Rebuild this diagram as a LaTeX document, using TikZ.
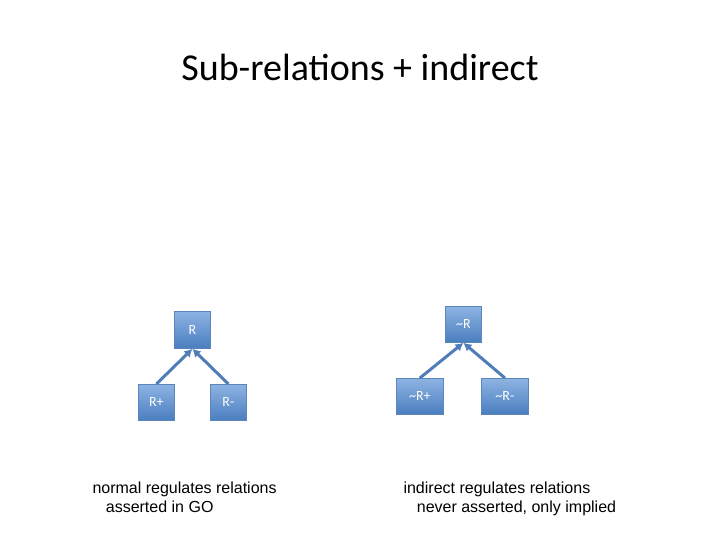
\documentclass[tikz,border=0pt]{standalone}
\usepackage{fontspec}
\usetikzlibrary{arrows.meta}
\setmainfont{Carlito}
\newfontfamily\arialf{Liberation Sans}
\definecolor{btop}{HTML}{8DB3E2}
\definecolor{bbot}{HTML}{4A7EC0}
\definecolor{bline}{HTML}{5A86BC}
\definecolor{arr}{HTML}{4F7DB8}
\begin{document}
\begin{tikzpicture}[x=1pt,y=-1pt,
  box/.style={draw=bline,line width=0.8pt,top color=btop,bottom color=bbot,text=white,font=\fontsize{14}{16}\selectfont,inner sep=0pt,anchor=north west},
  conn/.style={draw=arr,line width=3pt,-{Latex[length=8pt,width=9pt]}},
  lbl/.style={font=\arialf\fontsize{16}{19}\selectfont,align=left,anchor=north west}]
\useasboundingbox (0,0) rectangle (720,540);
\node (title) at (360,67) {\fontsize{38}{44}\selectfont Sub-relations + indirect};
\node[box,minimum width=36pt,minimum height=37pt] (R) at (174,311) {R};
\node[box,minimum width=36pt,minimum height=36pt] (Rp) at (138,384) {R+};
\node[box,minimum width=36pt,minimum height=36pt] (Rm) at (210,384) {R-};
\node[box,minimum width=36pt,minimum height=36pt] (nR) at (445,306) {\textasciitilde R};
\node[box,minimum width=47pt,minimum height=36pt] (nRp) at (396,378) {\textasciitilde R+};
\node[box,minimum width=47pt,minimum height=36pt] (nRm) at (481,378) {\textasciitilde R-};
\draw[conn] (Rp.north) -- (R.south);
\draw[conn] (Rm.north) -- (R.south);
\draw[conn] (nRp.north) -- (nR.south);
\draw[conn] (nRm.north) -- (nR.south);
\node[lbl] (l1) at (89,478) {normal regulates relations\\\ \ \ asserted in GO};
\node[lbl] (l2) at (400,478) {indirect regulates relations\\\ \ \ never asserted, only implied};
\end{tikzpicture}
\end{document}
